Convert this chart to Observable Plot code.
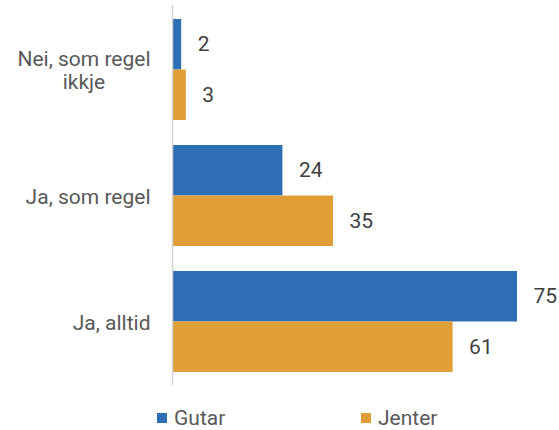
<!DOCTYPE html>
<html><head><meta charset="utf-8">
<script src="https://cdn.jsdelivr.net/npm/d3@7"></script>
<script src="https://cdn.jsdelivr.net/npm/@observablehq/plot@0.6"></script>
<style>
body{margin:0;background:#fff;font-family:Roboto,sans-serif;}
#chart svg{display:block;}
#legend{height:30px;font-size:21px;color:#595959;position:relative;}
.item{position:absolute;display:flex;align-items:center;top:6px;line-height:24px;}
.sw{width:10px;height:10px;margin-right:7px;}
</style></head>
<body><div id="chart"></div><div id="legend"></div>
<script>
const categories = ["Nei, som regel\nikkje", "Ja, som regel", "Ja, alltid"];
const gutar = [2, 24, 75];
const jenter = [3, 35, 61];
const seriesNames = ["Gutar", "Jenter"];
const colors = ["#2e6eb5", "#df9f36"];

const rows = [];
categories.forEach((c, i) => {
  rows.push({cat: c, series: "Gutar", value: gutar[i]});
  rows.push({cat: c, series: "Jenter", value: jenter[i]});
});
const G = rows.filter(d => d.series === "Gutar");
const J = rows.filter(d => d.series === "Jenter");

const fontSize = 21;
const ctx = document.createElement("canvas").getContext("2d");
ctx.font = `${fontSize}px Roboto`;
const rightEdge = 150, marginLeft = 172;
const labelMarks = categories.map(c => {
  const w = d3.max(c.split("\n"), l => ctx.measureText(l).width);
  return Plot.text([c], {y: d => d, text: d => d, frameAnchor: "left", textAnchor: "middle",
    dx: -(marginLeft - rightEdge) - w / 2, fontSize, fill: "#595959", lineHeight: 1.12});
});

const bandH = 101;
const chart = Plot.plot({
  width: 559, height: 400,
  marginLeft, marginRight: 19, marginTop: 5, marginBottom: 15,
  style: {fontFamily: "Roboto, sans-serif"},
  x: {domain: [0, 80], axis: null},
  y: {domain: categories, axis: null, paddingInner: 0.2, paddingOuter: 0.1},
  marks: [
    Plot.barX(G, {x: "value", y: "cat", fill: colors[0], insetBottom: bandH / 2, insetTop: 0}),
    Plot.barX(J, {x: "value", y: "cat", fill: colors[1], insetTop: bandH / 2, insetBottom: 0}),
    Plot.ruleX([0], {stroke: "#d4d4d4", strokeWidth: 1.5}),
    Plot.text(G, {x: "value", y: "cat", text: d => String(d.value), dy: -bandH / 4, dx: 16, textAnchor: "start", fontSize, fill: "#404040"}),
    Plot.text(J, {x: "value", y: "cat", text: d => String(d.value), dy: bandH / 4, dx: 16, textAnchor: "start", fontSize, fill: "#404040"}),
    ...labelMarks
  ]
});
document.getElementById("chart").appendChild(chart);

const legend = document.getElementById("legend");
const lx = [157, 361];
seriesNames.forEach((s, i) => {
  const it = document.createElement("div");
  it.className = "item";
  it.style.left = lx[i] + "px";
  it.innerHTML = `<div class="sw" style="background:${colors[i]}"></div><span>${s}</span>`;
  legend.appendChild(it);
});
</script></body></html>
